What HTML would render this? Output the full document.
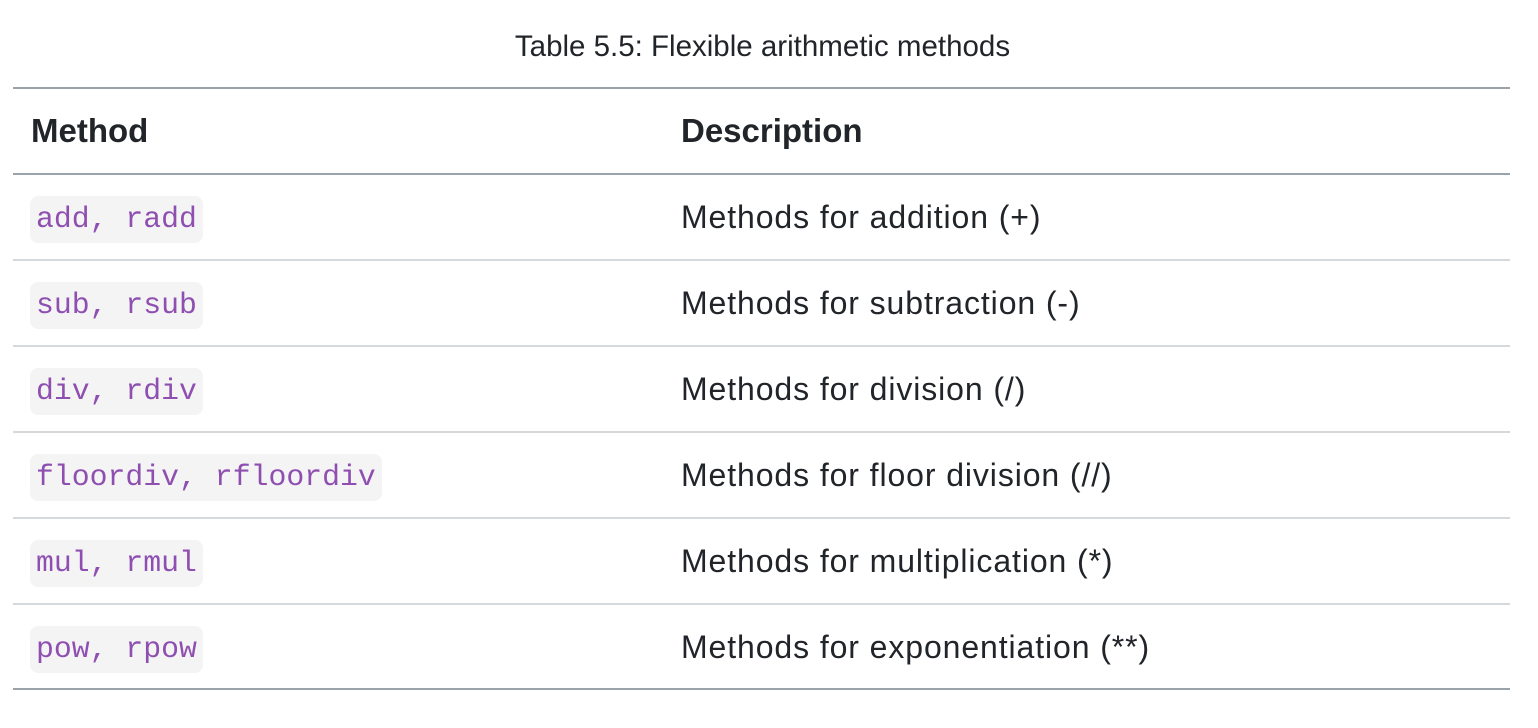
<!DOCTYPE html>
<html><head><meta charset="utf-8"><style>
body{margin:0;width:1538px;height:728px;background:#fff;position:relative;overflow:hidden;font-family:"Liberation Sans",sans-serif;color:#212529}
.t{position:absolute;left:0;width:1525px;top:30px;text-align:center;font-size:29.5px}
.l{position:absolute;left:13px;width:1497px}
.d{background:#9aa2aa;height:2px}
.s{background:#d6d9dc;height:1.5px}
.h{position:absolute;font-size:33px;font-weight:bold;top:112px}
.c{position:absolute;left:30px;height:47px;background:#f4f4f5;border-radius:8px;font-family:"Liberation Mono",monospace;font-size:29.8px;color:#8e4fb0;line-height:47px;padding:0 6px}
.x{position:absolute;left:681px;font-size:32px;line-height:36px;letter-spacing:0.9px}
</style></head><body>
<div class="t">Table 5.5: Flexible arithmetic methods</div>
<div class="l d" style="top:87px"></div>
<div class="h" style="left:31px">Method</div>
<div class="h" style="left:681px">Description</div>
<div class="l d" style="top:173px"></div>
<div class="c" style="top:196px">add, radd</div><div class="x" style="top:199px">Methods for addition (+)</div>
<div class="l s" style="top:259px"></div>
<div class="c" style="top:282px">sub, rsub</div><div class="x" style="top:285px">Methods for subtraction (-)</div>
<div class="l s" style="top:345px"></div>
<div class="c" style="top:368px">div, rdiv</div><div class="x" style="top:371px">Methods for division (/)</div>
<div class="l s" style="top:431px"></div>
<div class="c" style="top:454px">floordiv, rfloordiv</div><div class="x" style="top:457px">Methods for floor division (//)</div>
<div class="l s" style="top:517px"></div>
<div class="c" style="top:540px">mul, rmul</div><div class="x" style="top:543px">Methods for multiplication (*)</div>
<div class="l s" style="top:603px"></div>
<div class="c" style="top:626px">pow, rpow</div><div class="x" style="top:629px">Methods for exponentiation (**)</div>
<div class="l d" style="top:688px"></div>
</body></html>
